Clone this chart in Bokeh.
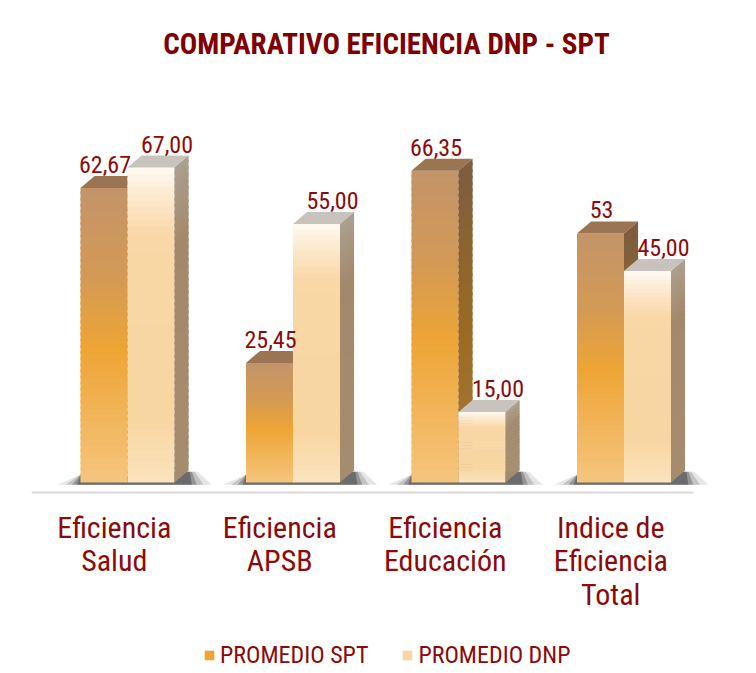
import numpy as np
from bokeh.plotting import figure
from bokeh.models import Range1d, Legend, LegendItem, ColumnDataSource
from bokeh.core.properties import value
from bokeh.embed import file_html
from bokeh.resources import INLINE

# ---------------- data ----------------
categories = ["Eficiencia\nSalud", "Eficiencia\nAPSB", "Eficiencia\nEducación",
              "Indice de\nEficiencia\nTotal"]
spt = [62.67, 25.45, 66.35, 53]
dnp = [67.00, 55.00, 15.00, 45.00]
spt_text = ["62,67", "25,45", "66,35", "53"]
dnp_text = ["67,00", "55,00", "15,00", "45,00"]
series_names = ["PROMEDIO SPT", "PROMEDIO DNP"]
title_text = "COMPARATIVO EFICIENCIA DNP - SPT"

# ---------------- style ----------------
FONT = "Roboto Condensed"
RED = "#8B0A0A"
TITLE_RED = "#7F0000"
BAR_L = 0.296      # left edge of first bar inside category
BAR_W = 0.284      # bar width (category units)
DX = 0.085         # 3-D depth, x
DY = 2.55          # 3-D depth, y
N = 48             # gradient bands
X_END = 4.29
Y0, Y1 = -40.0, 89.36
Y_LINE = -2.13     # category axis line

spt_front_stops = [(0.0, "#C29469"), (0.3, "#D49A55"), (0.55, "#EEA535"),
                   (0.78, "#F2B55B"), (1.0, "#F5C57E")]
dnp_front_stops = [(0.0, "#FFFAF3"), (0.08, "#FDEBD2"), (0.22, "#F9D7A6"),
                   (0.8, "#F8D6A1"), (1.0, "#FBE3BE")]
spt_side_stops = [(0.0, "#7C5D3F"), (0.5, "#9A6A24"), (1.0, "#A87B36")]
dnp_side_stops = [(0.0, "#ABA08F"), (0.25, "#A3896B"), (1.0, "#A48D6E")]
spt_top = "#9B7451"
dnp_top = "#C8C4BD"


def hex2rgb(h):
    h = h.lstrip("#")
    return np.array([int(h[i:i + 2], 16) for i in (0, 2, 4)], dtype=float)


def grad(stops, t):
    for (t0, c0), (t1, c1) in zip(stops[:-1], stops[1:]):
        if t <= t1:
            f = 0 if t1 == t0 else (t - t0) / (t1 - t0)
            c = hex2rgb(c0) * (1 - f) + hex2rgb(c1) * f
            return "#%02x%02x%02x" % tuple(int(round(v)) for v in c)
    return stops[-1][1]


p = figure(width=750, height=670, output_backend="svg", toolbar_location=None,
           x_range=Range1d(0, X_END), y_range=Range1d(Y0, Y1),
           min_border_left=31, min_border_right=9, min_border_top=62,
           min_border_bottom=0, x_axis_location=None, y_axis_location=None,
           tools="")
p.outline_line_color = None
p.xgrid.visible = False
p.ygrid.visible = False

p.title.text = title_text
p.title.align = "center"
p.title.standoff = 3
p.title.text_font = FONT
p.title.text_font_size = "29px"
p.title.text_font_style = "bold"
p.title.text_color = TITLE_RED

# ---------------- shadows ----------------
for i in range(len(categories)):
    xl = i + BAR_L
    xr = i + BAR_L + 2 * BAR_W + DX
    for k, (e, a) in enumerate([(0.14, 0.12), (0.09, 0.2), (0.05, 0.3), (0.02, 0.4)]):
        p.patch(x=[xl - e, xr + e, xr + e * 0.4, xl + e * 0.3],
                y=[-0.5, -0.5, DY * 0.9, DY * 0.9],
                fill_color="#303030", fill_alpha=a, line_color=None)


def draw_series(vals, offset, front_stops, side_stops, top_color):
    fl, fr, fb, ft, fc = [], [], [], [], []
    sx, sy, sc = [], [], []
    tx, ty = [], []
    for i, v in enumerate(vals):
        xl = i + BAR_L + offset
        xr = xl + BAR_W
        for k in range(N):
            b = v * k / N
            t = min(v, v * (k + 1.4) / N)
            tt = 1 - (k + 0.5) / N
            fl.append(xl); fr.append(xr); fb.append(b); ft.append(t)
            fc.append(grad(front_stops, tt))
            sx.append([xr, xr + DX, xr + DX, xr])
            sy.append([b, b + DY, t + DY, t])
            sc.append(grad(side_stops, tt))
        tx.append([xl, xr, xr + DX, xl + DX])
        ty.append([v, v, v + DY, v + DY])
    src = ColumnDataSource(dict(left=fl, right=fr, bottom=fb, top=ft, color=fc))
    front = p.quad(left="left", right="right", bottom="bottom", top="top",
                   fill_color="color", line_color=None, source=src)
    p.patches(xs=tx, ys=ty, fill_color=top_color, line_color=None)
    p.patches(xs=sx, ys=sy, fill_color=sc, line_color=None)
    return front


spt_front = draw_series(spt, 0.0, spt_front_stops, spt_side_stops, spt_top)
dnp_front = draw_series(dnp, BAR_W, dnp_front_stops, dnp_side_stops, dnp_top)

# ---------------- value labels ----------------
xs_spt = [i + BAR_L + BAR_W / 2 for i in range(len(spt))]
xs_dnp = [i + BAR_L + 1.5 * BAR_W for i in range(len(dnp))]
p.text(x=xs_spt, y=[v + DY for v in spt], text=spt_text, text_font=value(FONT),
       text_font_size="24px", text_color=RED, text_align="center",
       text_baseline="bottom", x_offset=1, y_offset=-3)
p.text(x=xs_dnp, y=[v + DY for v in dnp], text=dnp_text, text_font=value(FONT),
       text_font_size="24px", text_color=RED, text_align="center",
       text_baseline="bottom", x_offset=16, y_offset=-3)

# ---------------- category axis ----------------
p.segment(x0=[0], x1=[len(categories)], y0=[Y_LINE], y1=[Y_LINE],
          line_color="#D9D9D9", line_width=2)
p.text(x=[i + 0.5 for i in range(len(categories))], y=[Y_LINE] * len(categories),
       text=categories, text_font=value(FONT), text_font_size="30px",
       text_line_height=0.96, text_color=RED, text_align="center",
       text_baseline="top", y_offset=17)

# ---------------- legend ----------------
legend = Legend(items=[
    LegendItem(label=series_names[0], renderers=[spt_front], index=int(N * 0.45)),
    LegendItem(label=series_names[1], renderers=[dnp_front], index=int(N * 0.5)),
], orientation="horizontal", location=(172, 1), border_line_color=None,
    background_fill_alpha=0, padding=0, margin=0, spacing=33, label_standoff=5,
    glyph_width=12, glyph_height=12, label_height=24,
    label_text_font=FONT, label_text_font_size="24px", label_text_color=RED)
p.add_layout(legend)

open("out.html", "w").write(file_html(p, INLINE))
